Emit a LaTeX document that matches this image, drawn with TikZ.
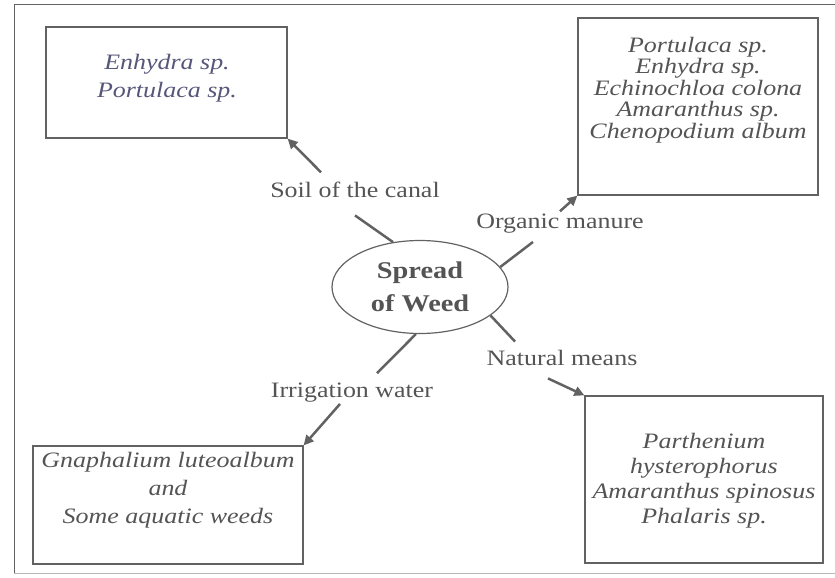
\documentclass[tikz,border=0pt]{standalone}
\usepackage{fontspec}
\setmainfont{Liberation Serif}[FakeStretch=1.18]
\usetikzlibrary{shapes.geometric,arrows.meta}

\definecolor{ink}{HTML}{545454}
\definecolor{inkblue}{HTML}{56567A}
\definecolor{edge}{HTML}{626262}

\tikzset{
  weedbox/.style={draw=edge, line width=1.2pt, rectangle, inner sep=0pt},
  weedlist/.style={align=center, text=ink, inner sep=0pt},
  pathlbl/.style={text=ink, font=\fontsize{22}{26}\selectfont, inner sep=2pt, anchor=base},
  link/.style={draw=edge, line width=2.5pt},
  linkarr/.style={link, -{Triangle[length=10pt,width=9.5pt]}},
}

\begin{document}
\begin{tikzpicture}[x=1pt, y=-1pt]
\useasboundingbox (0,0) rectangle (835,578);
% Outer frame (open on the right)
\draw[edge, line width=1pt] (835,5) -- (14,5) -- (14,573);
\draw[edge!45, line width=1pt] (14,573) -- (835,573);
% Centre
\node[ellipse, draw=edge, line width=1.2pt, minimum width=176pt, minimum height=93pt,
      inner sep=0pt, align=center, text=ink, font=\fontsize{24}{33}\selectfont\bfseries]
      (spread) at (420,287) {Spread\\of Weed};
% Boxes
\node[weedbox, minimum width=241pt, minimum height=111pt] (canalbox) at (166.5,82.5) {};
\node[weedbox, minimum width=240pt, minimum height=177pt] (manurebox) at (698,106.5) {};
\node[weedbox, minimum width=270pt, minimum height=118pt] (waterbox) at (168,505) {};
\node[weedbox, minimum width=238pt, minimum height=167pt] (naturebox) at (704,479.5) {};
% Weeds in the boxes
\node[weedlist, text=inkblue, font=\fontsize{22}{28}\selectfont\itshape] (canalweeds) at (167,78)
  {Enhydra sp.\\Portulaca sp.};
\node[weedlist, font=\fontsize{22}{21.5}\selectfont\itshape] (manureweeds) at (698,90)
  {Portulaca sp.\\Enhydra sp.\\Echinochloa colona\\Amaranthus sp.\\Chenopodium album};
\node[weedlist, font=\fontsize{22}{28}\selectfont\itshape] (waterweeds) at (168,490)
  {Gnaphalium luteoalbum\\and\\Some aquatic weeds};
\node[weedlist, font=\fontsize{22}{25}\selectfont\itshape] (natureweeds) at (704,480.5)
  {Parthenium\\hysterophorus\\Amaranthus spinosus\\Phalaris sp.};
% Means of spread
\node[pathlbl] (canallbl) at (355,197) {Soil of the canal};
\node[pathlbl] (manurelbl) at (560,228) {Organic manure};
\node[pathlbl] (waterlbl) at (352,397) {Irrigation water};
\node[pathlbl] (naturelbl) at (562,365) {Natural means};
% Connectors: ellipse -> label, label -> box
\draw[link] (spread.121) -- ([yshift=-16pt]canallbl.south);
\draw[linkarr] ([xshift=-34pt,yshift=7pt]canallbl.north) -- (canalbox.south east);
\draw[link] (spread.14) -- ([xshift=-27pt,yshift=-7pt]manurelbl.south);
\draw[linkarr] (manurelbl.north) -- (manurebox.south west);
\draw[link] (spread.265) -- ([xshift=25pt,yshift=7pt]waterlbl.north);
\draw[linkarr] ([xshift=-12pt]waterlbl.south) -- (waterbox.north east);
\draw[link] (spread.338) -- ([xshift=-47pt,yshift=6pt]naturelbl.north);
\draw[linkarr] ([xshift=-14pt,yshift=-11pt]naturelbl.south) -- (naturebox.north west);
\end{tikzpicture}
\end{document}
